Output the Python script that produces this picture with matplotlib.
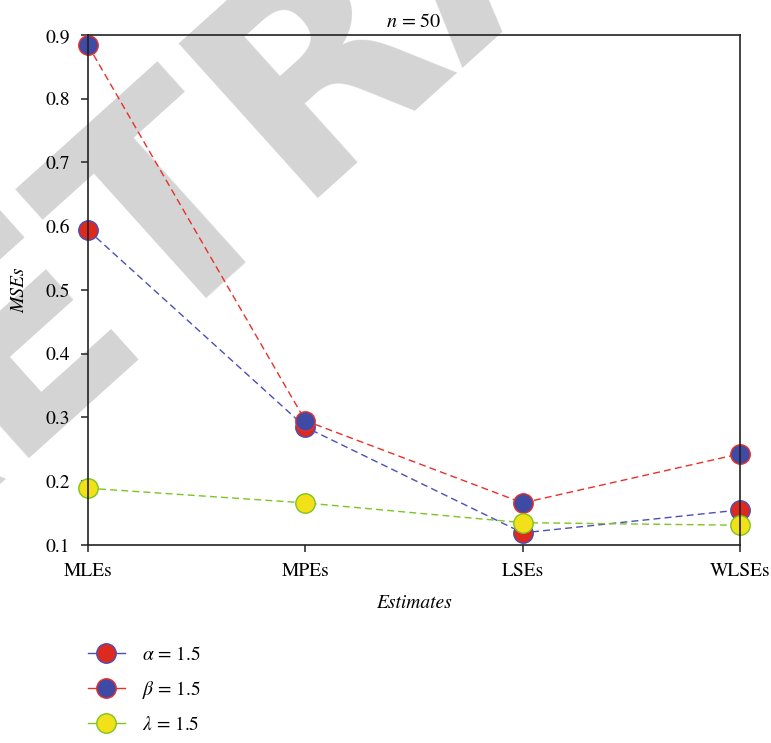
import matplotlib
matplotlib.use("Agg")
import matplotlib.pyplot as plt

plt.rcParams['font.family'] = ['STIXGeneral', 'DejaVu Serif']
plt.rcParams['mathtext.fontset'] = 'stix'

estimates = ['MLEs', 'MPEs', 'LSEs', 'WLSEs']
mse_alpha = [0.594, 0.285, 0.119, 0.155]
mse_beta = [0.884, 0.295, 0.166, 0.243]
mse_lambda = [0.189, 0.166, 0.135, 0.131]
y_ticks = [0.1, 0.2, 0.3, 0.4, 0.5, 0.6, 0.7, 0.8, 0.9]

fig = plt.figure(figsize=(7.71, 7.43), dpi=100)
ax = fig.add_axes([0.1141, 0.2665, 0.8457, 0.6864])
ax.patch.set_alpha(0)

# big diagonal stamp behind everything (display pixels, origin bottom-left)
fig.text(540, 768, 'RETRACTED', transform=None, rotation=42, fontsize=205,
         color='#d4d4d4', family='DejaVu Sans', weight='bold',
         ha='center', va='baseline', rotation_mode='anchor', zorder=-1)

x = range(len(estimates))
ax.plot(x, mse_alpha, ls=(0, (5, 3)), lw=1, color='#4a4fb5', marker='o', ms=14,
        mfc='#dc2a1e', mec='#4a4fb5', mew=1, clip_on=False, label=r'$\alpha$ = 1.5')
ax.plot(x, mse_beta, ls=(0, (5, 3)), lw=1, color='#e8302a', marker='o', ms=14,
        mfc='#3f4aa5', mec='#e8302a', mew=1, clip_on=False, label=r'$\beta$ = 1.5')
ax.plot(x, mse_lambda, ls=(0, (5, 3)), lw=1, color='#7dc522', marker='o', ms=14,
        mfc='#f2e019', mec='#7dc522', mew=1, clip_on=False, label=r'$\lambda$ = 1.5')

ax.set_xlim(0, len(estimates) - 1)
ax.set_ylim(0.1, 0.9)
ax.set_xticks(list(x))
ax.set_xticklabels(estimates)
ax.set_yticks(y_ticks)
ax.set_yticklabels([f'{v:.1f}' for v in y_ticks])
ax.tick_params(direction='out', length=5, width=1.2, labelsize=14, pad=8, colors='#333333', labelcolor='black')
for s in ax.spines.values():
    s.set_linewidth(1.2)
    s.set_color('#222222')

ax.set_xlabel('Estimates', fontsize=14, style='italic', labelpad=10)
ax.set_ylabel('MSEs', fontsize=14, style='italic', labelpad=12)
ax.set_title(r'$n$ = 50', fontsize=14.5, pad=6, x=0.50)

leg = ax.legend(loc='upper left', bbox_to_anchor=(0, -0.198), frameon=False, fontsize=14,
                borderpad=0, borderaxespad=0, handlelength=1.9, handletextpad=0.9,
                labelspacing=0.78)
for line in leg.get_lines():
    line.set_linestyle('-')

fig.savefig('out.png', dpi=100)
